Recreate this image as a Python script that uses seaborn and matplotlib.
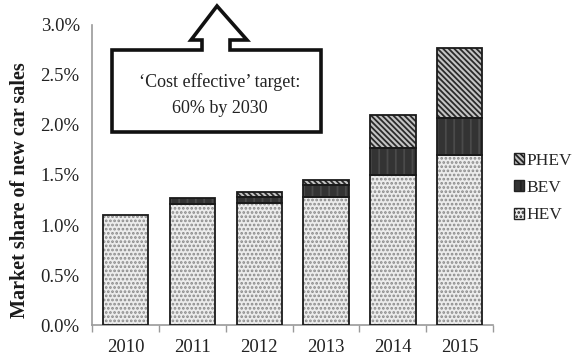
import pandas as pd
import matplotlib.pyplot as plt
import seaborn as sns
import numpy as np
from matplotlib.patches import Polygon, Rectangle, Patch
from matplotlib.ticker import FuncFormatter, FixedLocator

years = ['2010', '2011', '2012', '2013', '2014', '2015']
hev = [1.10, 1.21, 1.22, 1.28, 1.50, 1.70]
bev = [0.00, 0.06, 0.06, 0.12, 0.27, 0.37]
phev = [0.00, 0.00, 0.05, 0.05, 0.33, 0.70]

df = pd.DataFrame({'year': years, 'HEV': hev, 'BEV': bev, 'PHEV': phev})
df['c_hev'] = df['HEV']
df['c_bev'] = df['HEV'] + df['BEV']
df['c_phev'] = df['c_bev'] + df['PHEV']

sns.set_style('white')
plt.rcParams['font.family'] = ['Liberation Serif', 'DejaVu Serif']
plt.rcParams['hatch.linewidth'] = 1.3

fig = plt.figure(figsize=(5.8, 3.6), dpi=100)
ax = fig.add_axes([0.159, 0.097, 0.691, 0.834])

# style: (face, hatch, hatch colour)
styles = {
    'PHEV': ('#c4c4c4', '\\\\\\\\\\\\', '#2a2a2a'),
    'BEV': ('#333333', '||', '#4a4a4a'),
    'HEV': ('#ececec', '....', '#8a8a8a'),
}

for col, name in [('c_phev', 'PHEV'), ('c_bev', 'BEV'), ('c_hev', 'HEV')]:
    n0 = len(ax.patches)
    sns.barplot(data=df, x='year', y=col, color=styles[name][0], width=0.68,
                saturation=1, ax=ax)
    for p in ax.patches[n0:]:
        p.set_facecolor(styles[name][0])
        p.set_hatch(styles[name][1])
        p.set_edgecolor(styles[name][2])
        p.set_linewidth(0)

# outlines of the stacked segments
for i in range(len(years)):
    prev = 0
    for v in [df['c_hev'][i], df['c_bev'][i], df['c_phev'][i]]:
        if v - prev > 1e-9:
            ax.add_patch(Rectangle((i - 0.34, prev), 0.68, v - prev, fill=False,
                                   edgecolor='#1a1a1a', lw=1.3, zorder=3))
        prev = v

ax.set_xlim(-0.5, 5.5)
ax.set_ylim(0, 3.0)
ax.set_yticks(np.arange(0, 3.01, 0.5))
ax.yaxis.set_major_formatter(FuncFormatter(lambda v, _: f'{v:.1f}%'))
ax.set_xlabel('')
ax.set_ylabel('')
ax.xaxis.set_minor_locator(FixedLocator(np.arange(-0.5, 6, 1)))
ax.tick_params(axis='x', which='major', length=0, pad=10, labelsize=13.5, colors='#222222')
ax.tick_params(axis='x', which='minor', length=5, width=1, color='#9a9a9a', direction='out')
ax.tick_params(axis='y', length=5, width=1, color='#9a9a9a', direction='out',
               labelsize=13.5, labelcolor='#222222', pad=4)
ax.tick_params(axis='x', bottom=True, which='both')
for s in ['top', 'right']:
    ax.spines[s].set_visible(False)
for s in ['left', 'bottom']:
    ax.spines[s].set_color('#9a9a9a')
    ax.spines[s].set_linewidth(1.2)

fig.text(0.035, 1 - 190 / 360, 'Market share of new car sales', rotation=90,
         ha='center', va='center', fontsize=14.5, fontweight='bold', color='#1a1a1a')

# callout arrow box (figure pixel coordinates)
pts = [(112, 50), (202, 50), (202, 40), (191, 40), (217, 6), (247, 40),
       (230, 40), (230, 50), (321, 50), (321, 132), (112, 132)]
pts = [(x / 580, 1 - y / 360) for x, y in pts]
fig.patches.append(Polygon(pts, closed=True, facecolor='white', edgecolor='#111111',
                           lw=2.6, transform=fig.transFigure, zorder=5))
fig.text(220 / 580, 1 - 82 / 360, '\u2018Cost effective\u2019 target:', ha='center',
         va='center', fontsize=13, color='#222222', zorder=6)
fig.text(220 / 580, 1 - 108 / 360, '60% by 2030', ha='center', va='center',
         fontsize=13, color='#222222', zorder=6)

handles = [Patch(facecolor=styles[k][0], hatch=styles[k][1], edgecolor=styles[k][2], lw=0)
           for k in ['PHEV', 'BEV', 'HEV']]
leg = fig.legend(handles, ['PHEV', 'BEV', 'HEV'], loc='center left',
                 bbox_to_anchor=(0.874, 1 - 188 / 360), frameon=False, fontsize=12.5,
                 handlelength=0.6, handleheight=0.6, handletextpad=0.15,
                 labelspacing=0.65, borderaxespad=0)
for h in leg.legend_handles:
    h.set_edgecolor('#222222')
    h.set_linewidth(1)

fig.savefig('out.png', dpi=100)
